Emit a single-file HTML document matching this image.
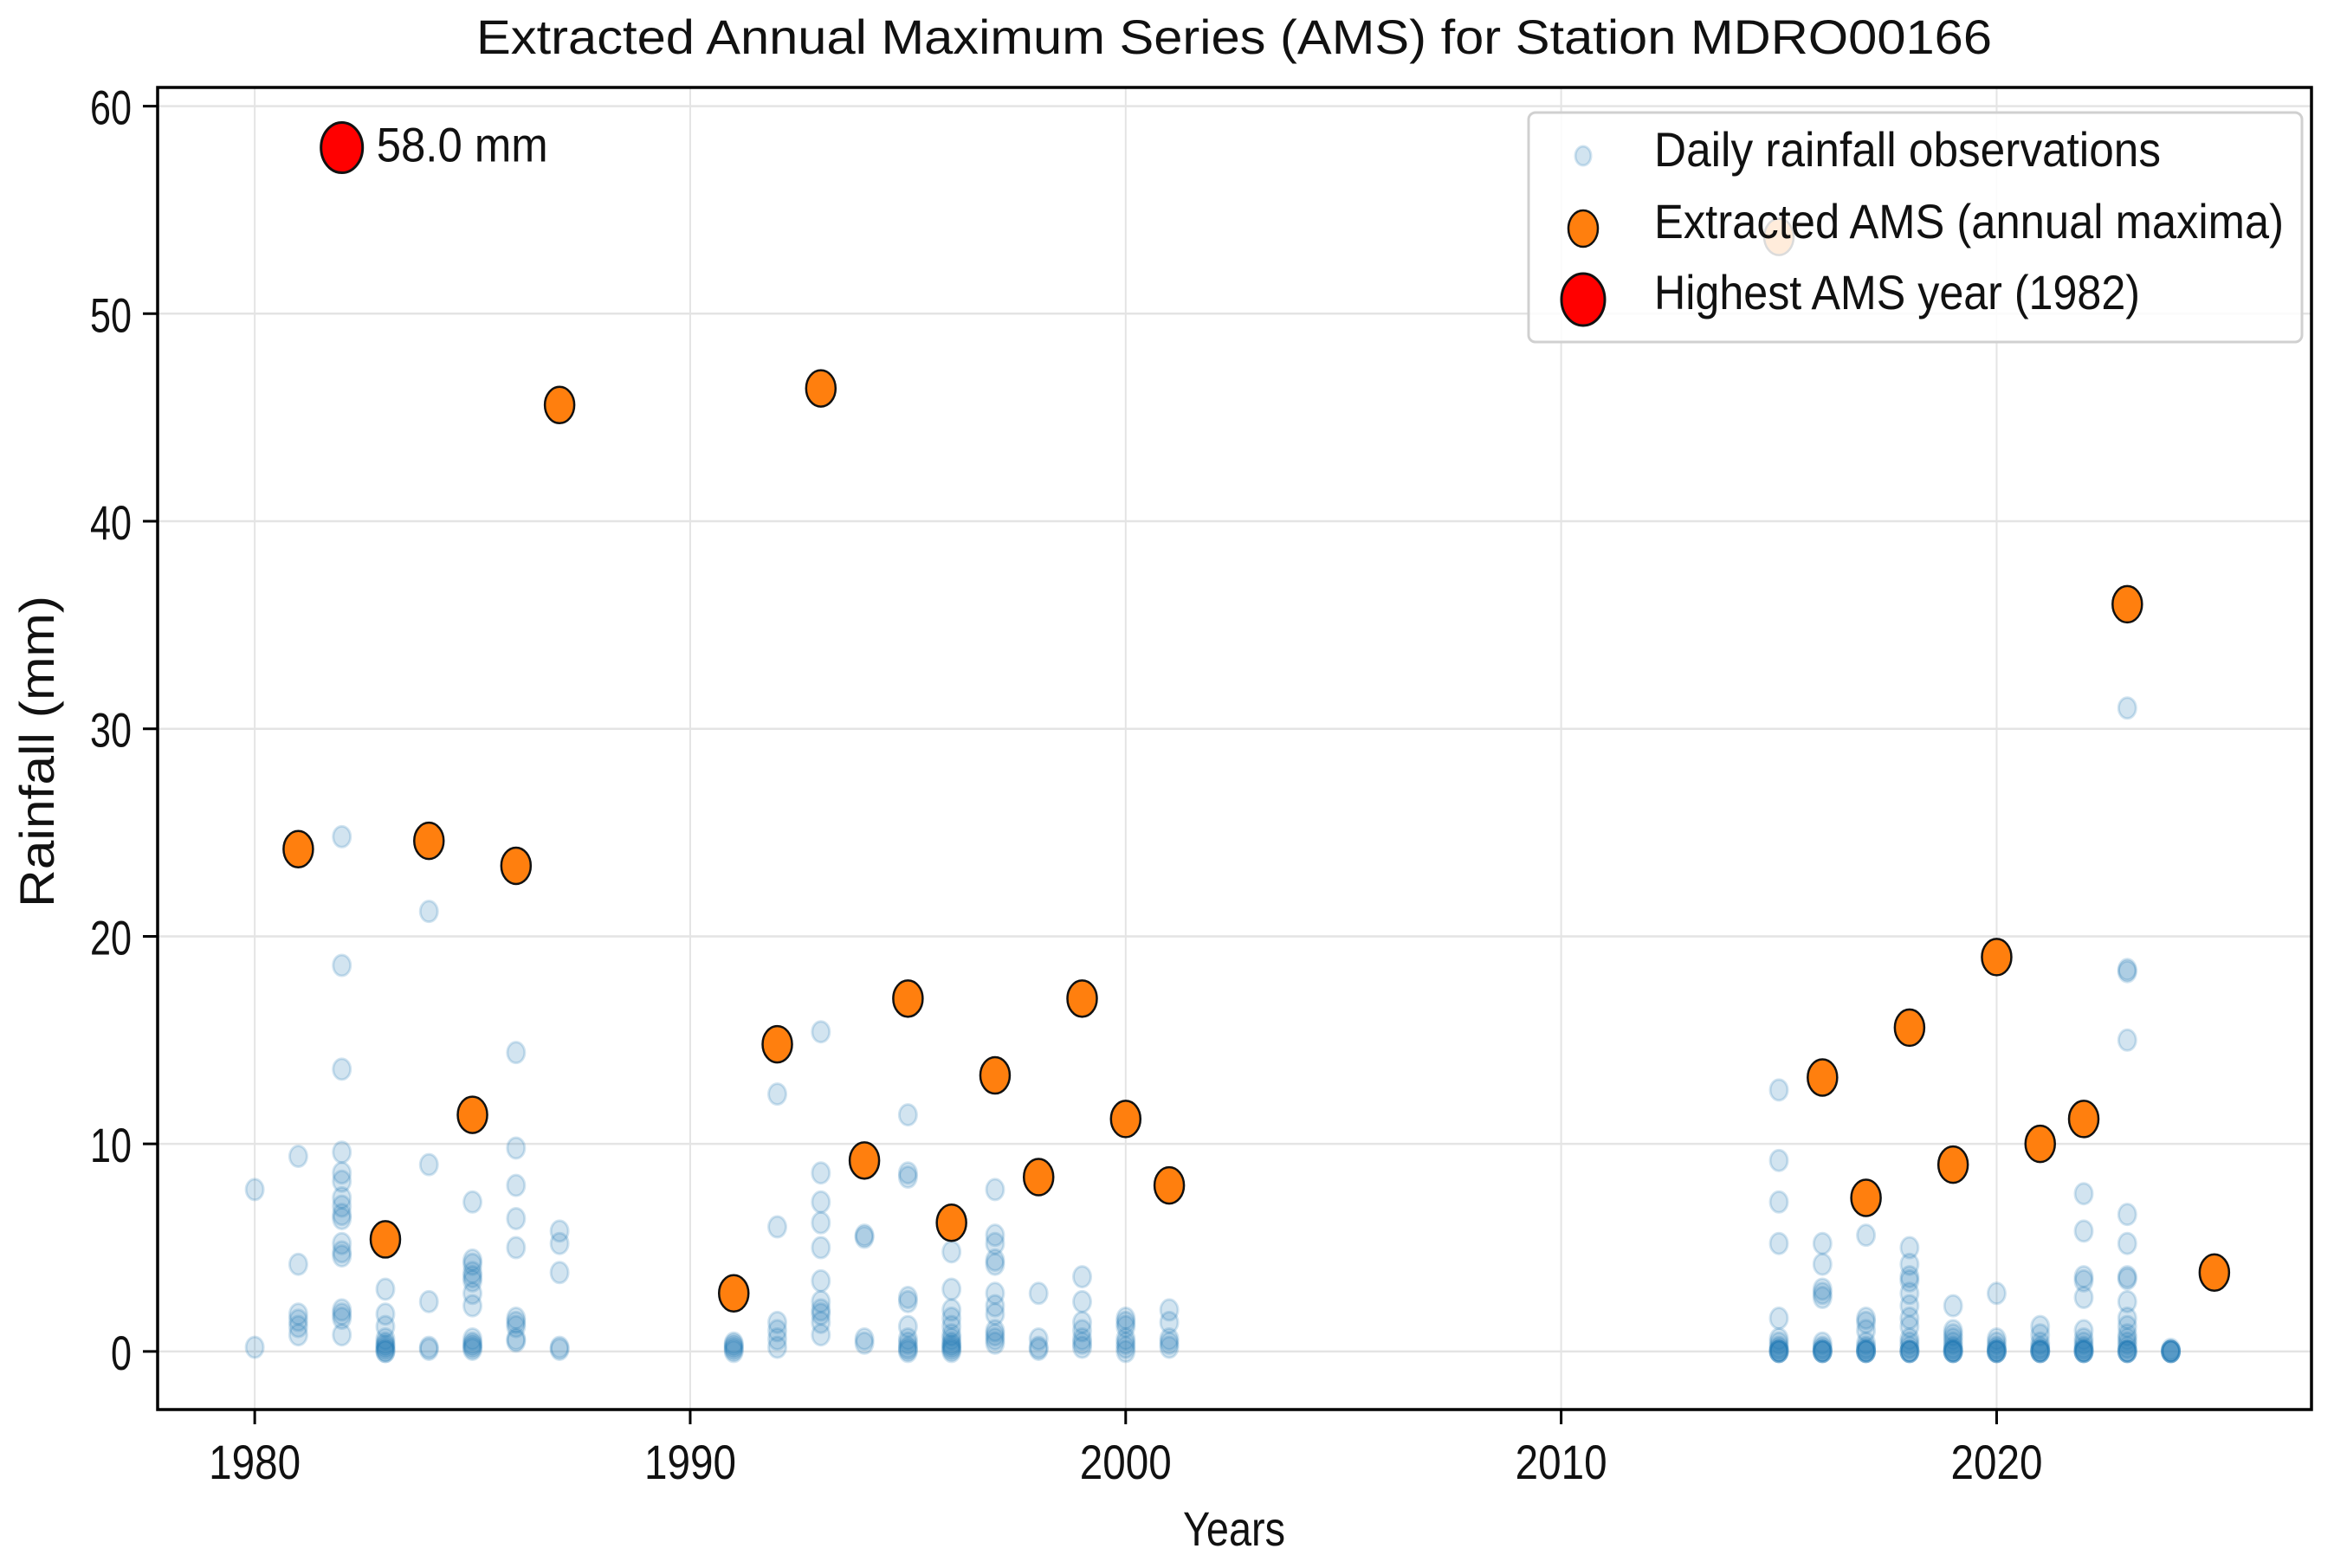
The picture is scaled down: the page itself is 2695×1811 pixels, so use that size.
<!DOCTYPE html>
<html><head><meta charset="utf-8"><title>AMS chart</title>
<style>
html,body{margin:0;padding:0;background:#fff;}
svg{display:block;}
text{font-family:"Liberation Sans","DejaVu Sans",sans-serif;fill:#111;}
</style></head>
<body>
<svg id="chart" width="2695" height="1811" viewBox="0 0 2695 1811" xmlns="http://www.w3.org/2000/svg">
<rect x="0" y="0" width="2695" height="1811" fill="#fff"/>
<g id="grid"></g>
<g id="daily"></g>
<g id="ams"></g>
<g id="axes"></g>
<g id="legend"></g>
</svg>
<script>
// ---- data ----
const amsYears = [1981,1982,1983,1984,1985,1986,1987,1991,1992,1993,1994,1995,1996,1997,1998,1999,2000,2001,2015,2016,2017,2018,2019,2020,2021,2022,2023,2025];
const amsValues = [24.2,58.0,5.4,24.6,11.4,23.4,45.6,2.8,14.8,46.4,9.2,17.0,6.2,13.3,8.4,17.0,11.2,8.0,53.7,13.2,7.4,15.6,9.0,19.0,10.0,11.2,36.0,3.8];
const highestYear = 1982;
const highestValue = 58.0;
const dailyYears = [1980,1981,1982,1983,1984,1985,1986,1987,1991,1992,1993,1994,1995,1996,1997,1998,1999,2000,2001,2015,2016,2017,2018,2019,2020,2021,2022,2023,2024];
const dailyValues = [
 [7.8,0.2],
 [9.4,4.2,1.8,1.5,1.2,0.8],
 [24.8,18.6,13.6,9.6,8.6,8.2,7.4,7.0,6.6,6.4,5.2,4.8,4.6,2.0,1.8,1.6,0.8],
 [3.0,1.8,1.2,0.6,0.4,0.2,0.1,0.0,0.0,0.3],
 [21.2,9.0,2.4,0.2,0.1],
 [7.2,4.4,4.2,3.8,3.6,3.4,2.8,2.2,0.6,0.4,0.2,0.1,0.3],
 [14.4,9.8,8.0,6.4,5.0,1.6,1.4,1.2,0.6,0.5],
 [5.8,5.2,3.8,0.2,0.1],
 [0.4,0.2,0.1,0.0,0.3],
 [12.4,6.0,1.4,1.0,0.6,0.2],
 [15.4,8.6,7.2,6.2,5.0,3.4,2.4,2.0,1.8,1.4,0.8],
 [5.6,5.5,0.6,0.4],
 [11.4,8.6,8.4,2.6,2.4,1.2,0.6,0.4,0.2,0.0,0.1],
 [4.8,3.0,2.0,1.6,1.2,0.8,0.6,0.4,0.2,0.0,0.1,0.3],
 [7.8,5.6,5.2,4.4,4.2,2.8,2.2,1.8,1.0,0.8,0.6,0.4],
 [2.8,0.6,0.2,0.1],
 [3.6,2.4,1.4,1.0,0.6,0.4,0.2],
 [1.6,1.4,1.2,0.6,0.4,0.2,0.0],
 [2.0,1.4,0.6,0.4,0.2],
 [12.6,9.2,7.2,5.2,1.6,0.6,0.4,0.2,0.0,0.0,0.0,0.0,0.1],
 [5.2,4.2,3.0,2.8,2.6,0.4,0.2,0.0,0.0,0.0,0.0,0.1],
 [5.6,1.6,1.4,1.0,0.4,0.2,0.0,0.0,0.0,0.0,0.1],
 [5.0,4.2,3.6,3.4,2.8,2.2,1.6,1.2,0.6,0.4,0.2,0.0,0.0,0.0,0.0],
 [2.2,1.0,0.8,0.6,0.4,0.2,0.0,0.0,0.0,0.0,0.1],
 [2.8,0.6,0.4,0.2,0.0,0.0,0.0,0.0,0.1],
 [1.2,0.8,0.4,0.2,0.0,0.0,0.0,0.0,0.1],
 [7.6,5.8,3.6,3.4,2.6,1.0,0.6,0.4,0.2,0.0,0.0,0.0,0.0,0.1],
 [31.0,18.4,18.3,15.0,6.6,5.2,3.6,3.5,2.4,1.6,1.2,0.8,0.6,0.4,0.2,0.0,0.0,0.0,0.0],
 [0.1,0.0,0.0,0.0,0.0,0.0]
];
const xTicks = [1980,1990,2000,2010,2020];
const yTicks = [0,10,20,30,40,50,60];

// ---- axes ----
const L=182,R=2669,T=101,B=1628;
const xMin=1977.77,xMax=2027.23,yMin=-2.8,yMax=60.9;
function sx(v){return L+(v-xMin)/(xMax-xMin)*(R-L);}
function sy(v){return B-(v-yMin)/(yMax-yMin)*(B-T);}
const NS='http://www.w3.org/2000/svg';
function mk(tag,attrs,parent){const e=document.createElementNS(NS,tag);for(const k in attrs)e.setAttribute(k,attrs[k]);parent.appendChild(e);return e;}
function txt(parent,s,x,y,size,anchor,len,rot){
  const g=mk('g',{transform:'translate('+x+','+y+')'+(rot?' rotate(-90)':'')+' scale(1,1.3)'},parent);
  const t=mk('text',{x:0,y:0,'font-size':size,'text-anchor':anchor||'start'},g);
  if(len){t.setAttribute('textLength',len);t.setAttribute('lengthAdjust','spacingAndGlyphs');}
  t.textContent=s;return t;
}
const svg=document.getElementById('chart');
const grid=document.getElementById('grid');
const axes=document.getElementById('axes');
xTicks.forEach(v=>{
  const l=mk('line',{x1:sx(v),x2:sx(v),y1:T,y2:B,stroke:'#e4e4e4','stroke-width':2},grid);
  
  
});
yTicks.forEach(v=>{
  const l=mk('line',{x1:L,x2:R,y1:sy(v),y2:sy(v),stroke:'#e4e4e4','stroke-width':2.5},grid);
  
  
});
// daily
const dg=document.getElementById('daily');
dailyYears.forEach((yr,i)=>{
  dailyValues[i].forEach(v=>{
    const c=mk('ellipse',{cx:sx(yr),cy:sy(v),rx:10,ry:12,fill:'rgba(31,119,180,0.2)',stroke:'rgba(31,119,180,0.2)','stroke-width':3},dg);
    
    
  });
});
// AMS
const ag=document.getElementById('ams');
amsYears.forEach((yr,i)=>{
  if(yr===highestYear) return;
  const c=mk('ellipse',{cx:sx(yr),cy:sy(amsValues[i]),rx:17,ry:21,fill:'#ff7f0e',stroke:'#111','stroke-width':2.5},ag);
  
  
});
const hp=mk('ellipse',{cx:sx(highestYear),cy:sy(highestValue),rx:24,ry:29,fill:'#ff0000',stroke:'#111','stroke-width':3},ag);


const ann=txt(ag,highestValue.toFixed(1)+' mm',sx(highestYear)+40,sy(highestValue)+16,43,'start',198);


// frame
const fr=mk('rect',{x:L,y:T,width:R-L,height:B-T,fill:'none',stroke:'#000','stroke-width':3.5},axes);


xTicks.forEach(v=>{
  mk('line',{x1:sx(v),x2:sx(v),y1:B,y2:B+17,stroke:'#000','stroke-width':3},axes);
  const t=txt(axes,String(v),sx(v),1708,43,'middle',106);
  
  
});
yTicks.forEach(v=>{
  mk('line',{x1:L-17,x2:L,y1:sy(v),y2:sy(v),stroke:'#000','stroke-width':3},axes);
  const t=txt(axes,String(v),152,sy(v)+21,43,'end',v===0?24:48);
  
  
});
const title=txt(svg,'Extracted Annual Maximum Series (AMS) for Station MDRO00166',1425,62,43,'middle',1750);


const xl=txt(svg,'Years',1425,1785,43,'middle',118);


const yl=txt(svg,'Rainfall (mm)',62,868,43,'middle',360,true);


// legend
const lg=document.getElementById('legend');


mk('rect',{x:1765,y:130,width:893,height:265,rx:8,fill:'rgba(255,255,255,0.85)',stroke:'#d0d0d0','stroke-width':3},lg);
const e1=mk('ellipse',{cx:1828,cy:180,rx:9,ry:11,fill:'rgba(31,119,180,0.2)',stroke:'rgba(31,119,180,0.2)','stroke-width':3},lg);


const e2=mk('ellipse',{cx:1828,cy:264,rx:17,ry:21,fill:'#ff7f0e',stroke:'#111','stroke-width':2.5},lg);


const e3=mk('ellipse',{cx:1828,cy:346,rx:25,ry:30,fill:'#ff0000',stroke:'#111','stroke-width':3},lg);


const t1=txt(lg,'Daily rainfall observations',1910,192,43,'start',585);


const t2=txt(lg,'Extracted AMS (annual maxima)',1910,275,43,'start',727);


const t3=txt(lg,'Highest AMS year (1982)',1910,357,43,'start',561);


</script>
</body></html>
